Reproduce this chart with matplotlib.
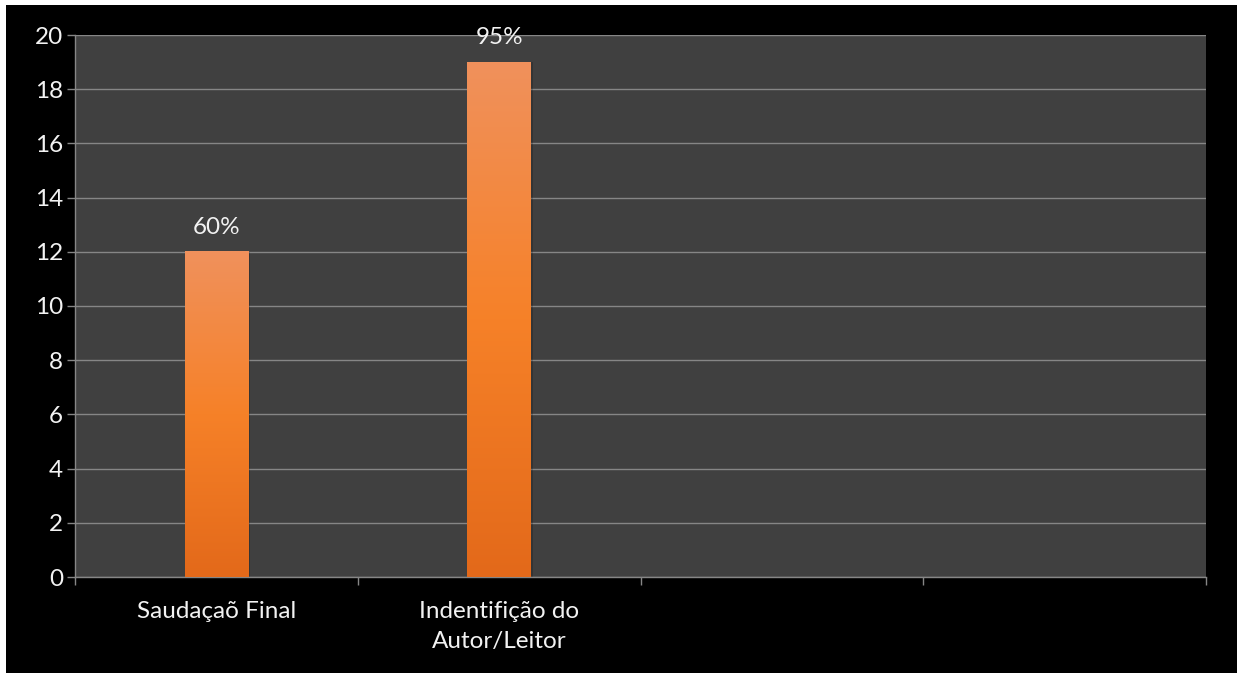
import numpy as np
import matplotlib
matplotlib.use("Agg")
import matplotlib.pyplot as plt
from matplotlib.colors import LinearSegmentedColormap
from matplotlib.patches import Rectangle

# Data
categories = ["Saudaçaõ Final", "Indentifição do\nAutor/Leitor", "", ""]
values = [12, 19, None, None]
value_labels = ["60%", "95%"]
y_ticks = list(range(0, 21, 2))

plt.rcParams['font.family'] = ['Lato', 'DejaVu Sans']

W, H = 1237, 673
fig = plt.figure(figsize=(W / 100, H / 100), dpi=100, facecolor="black")

# thin white frame strips on top and left edges
fig.patches.append(Rectangle((0, 1 - 5 / H), 1, 5 / H, transform=fig.transFigure,
                             facecolor="white", edgecolor="none", zorder=0))
fig.patches.append(Rectangle((0, 0), 6 / W, 1, transform=fig.transFigure,
                             facecolor="white", edgecolor="none", zorder=0))

left, right, top, bottom = 75 / W, 1206 / W, 1 - 35 / H, 1 - 577 / H
ax = fig.add_axes([left, bottom, right - left, top - bottom])
ax.set_facecolor("#404040")

ax.set_xlim(-0.5, 3.5)
ax.set_ylim(0, 20)
ax.set_yticks(y_ticks)
ax.yaxis.grid(True, color="#868686", linewidth=1.0)
ax.set_axisbelow(True)

for s in ["top", "right"]:
    ax.spines[s].set_visible(False)
for s in ["left", "bottom"]:
    ax.spines[s].set_color("#868686")
    ax.spines[s].set_linewidth(1.0)

ax.tick_params(axis="y", colors="#868686", labelcolor="#F2F2F2", labelsize=17.5,
               length=6, width=1, direction="out", pad=2.5)

# categories labelled at centres, tick marks on the boundaries
n = len(categories)
ax.set_xticks(range(n))
ax.set_xticklabels(categories, color="#F2F2F2", fontsize=17.5, linespacing=1.55)
ax.tick_params(axis="x", which="major", length=0, pad=17)
ax.set_xticks(np.arange(-0.5, n, 1.0), minor=True)
ax.tick_params(axis="x", which="minor", colors="#868686", length=6, width=1)

# orange vertical gradient (light top -> bright middle -> deeper bottom)
cmap = LinearSegmentedColormap.from_list(
    "bar", [(0.0, "#E3691A"), (0.5, "#F68128"), (1.0, "#F0915C")])
grad = np.linspace(0, 1, 256).reshape(-1, 1)

bar_w = 0.225
bars = ax.bar([i for i, v in enumerate(values) if v is not None],
              [v for v in values if v is not None], width=bar_w,
              color="none", edgecolor="none")
for i, (rect, lab) in enumerate(zip(bars, value_labels)):
    x0, h = rect.get_x(), rect.get_height()
    # soft shadow on the right side
    ax.add_patch(Rectangle((x0 + 0.006, 0), bar_w, h, facecolor="black",
                           alpha=0.18, edgecolor="none", zorder=2))
    ax.imshow(grad, cmap=cmap, aspect="auto", origin="lower",
              extent=(x0, x0 + bar_w, 0, h), zorder=3)
    ax.annotate(lab, (rect.get_x() + bar_w / 2, h), xytext=(0, 10),
                textcoords="offset points", ha="center", va="bottom",
                color="#F2F2F2", fontsize=17.5)

ax.set_xlim(-0.5, 3.5)
ax.set_ylim(0, 20)

fig.savefig("out.png", dpi=100, facecolor="black")
